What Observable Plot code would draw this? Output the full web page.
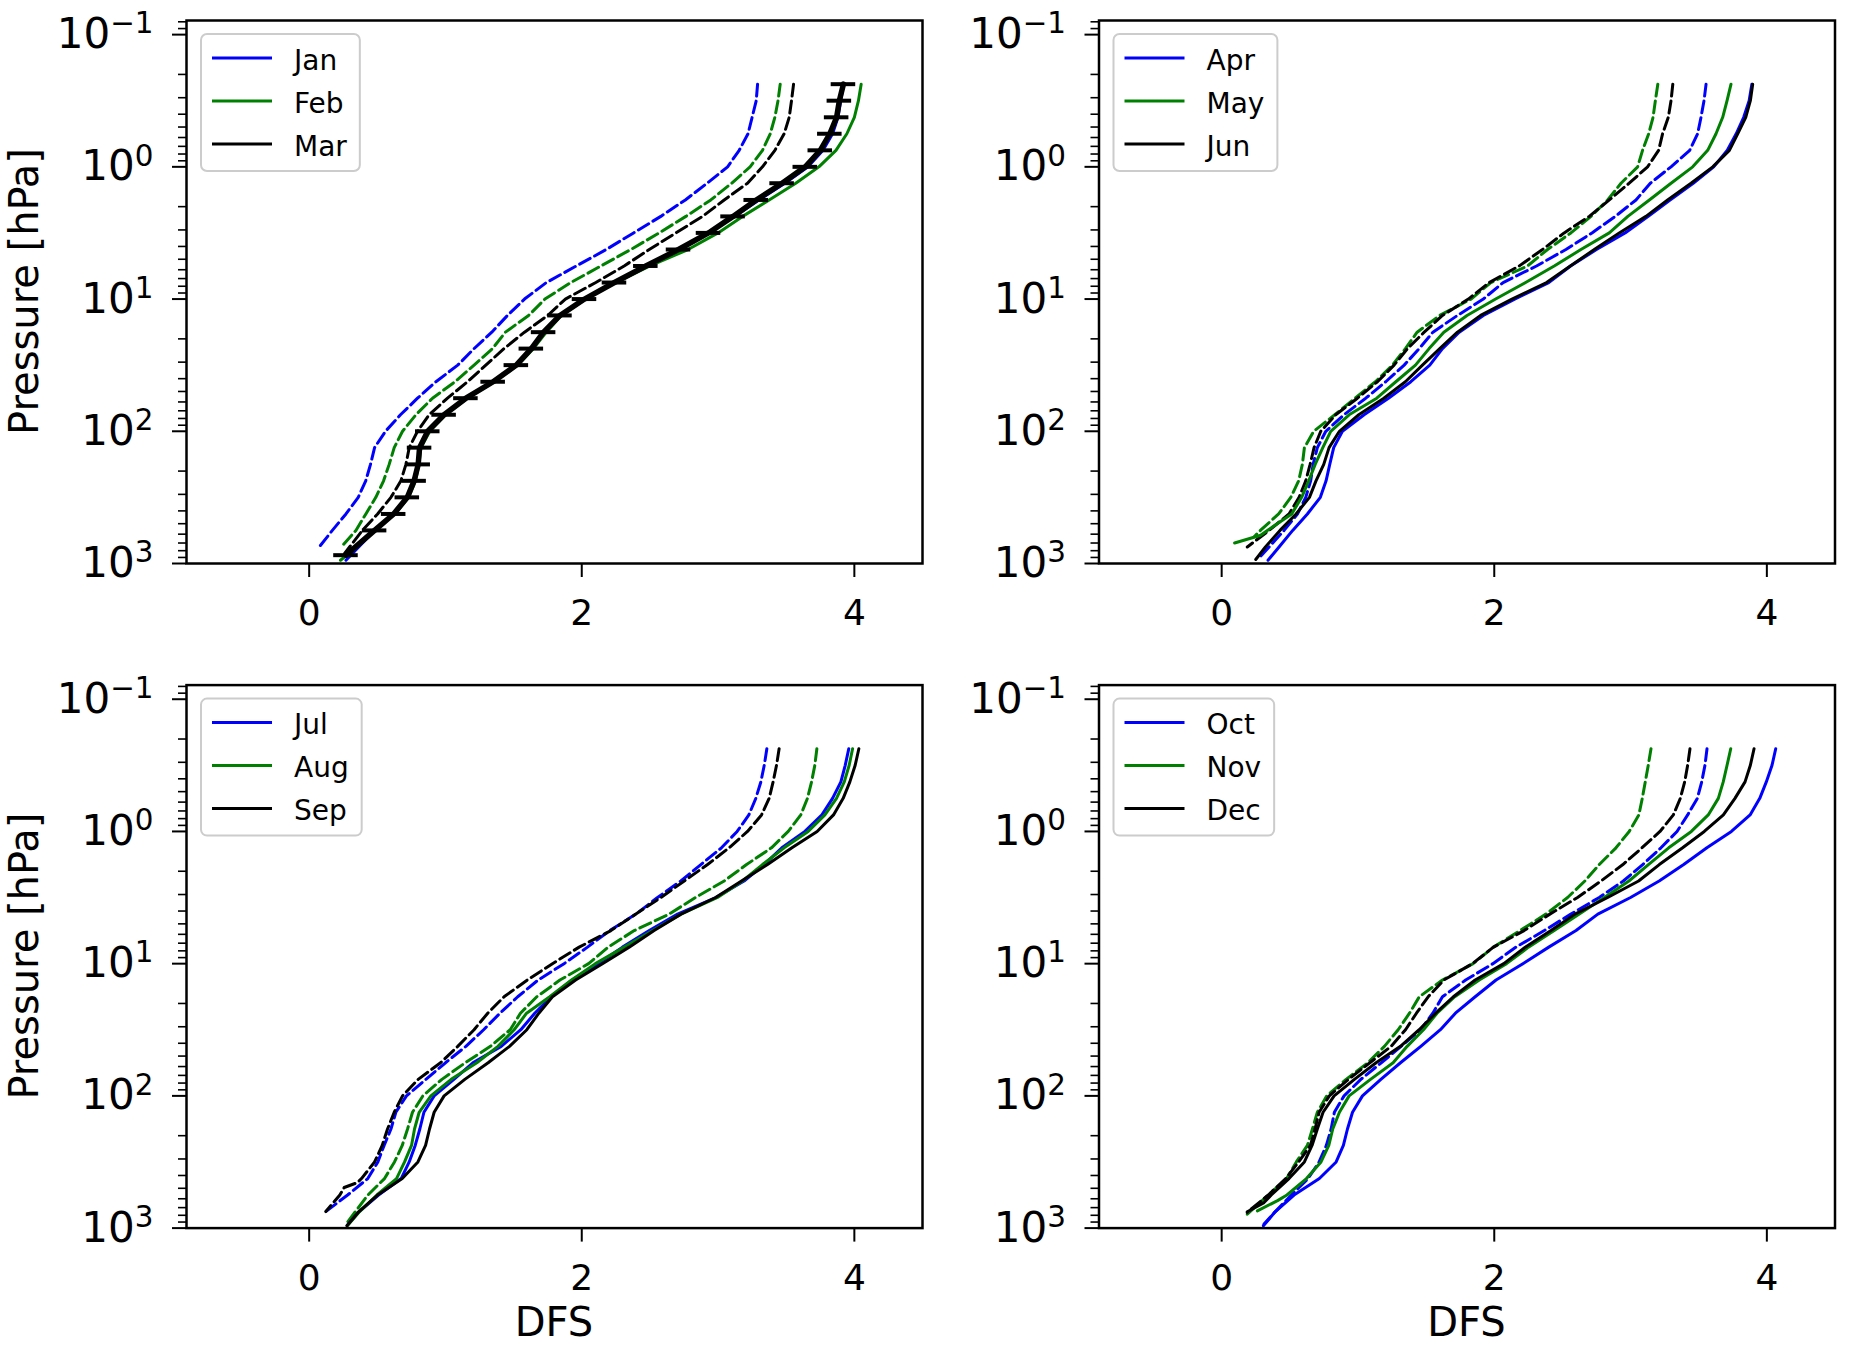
<!DOCTYPE html>
<html><head><meta charset="utf-8">
<script src="https://cdn.jsdelivr.net/npm/d3@7"></script>
<script src="https://cdn.jsdelivr.net/npm/@observablehq/plot@0.6"></script>
<style>
html,body{margin:0;padding:0;background:#fff;}
#fig{position:relative;width:1854px;height:1346px;background:#fff;overflow:hidden;}
.panel{position:absolute;width:927px;height:673px;}
.panel svg{max-width:none !important;}
</style></head><body><div id="fig"></div>
<script>
// Pressure levels (hPa) shared by the profiles
const levels = [0.237, 0.316, 0.422, 0.562, 0.75, 1, 1.33, 1.78, 2.37, 3.16, 4.22, 5.62, 7.5, 10, 13.3, 17.8, 23.7, 31.6, 42.2, 56.2, 75, 100, 133, 178, 237, 316, 422, 562];
const yMajorTicks = [0.1, 1, 10, 100, 1000];
const yMinorTicks = [0.08, 0.09, 0.2, 0.3, 0.4, 0.5, 0.6, 0.7, 0.8, 0.9, 2, 3, 4, 5, 6, 7, 8, 9, 20, 30, 40, 50, 60, 70, 80, 90, 200, 300, 400, 500, 600, 700, 800, 900];
const xTicks = [0, 2, 4];
const colors = ["#0000ff", "#008000", "#000000"];

// Jan / Feb / Mar
const janSolid = [3.92, 3.90, 3.88, 3.84, 3.77, 3.66, 3.49, 3.30, 3.12, 2.93, 2.71, 2.47, 2.24, 2.02, 1.84, 1.72, 1.63, 1.52, 1.35, 1.15, 0.99, 0.87, 0.81, 0.80, 0.77, 0.72, 0.62, 0.48];
const janSolidTail = [[945, 0.27]];
const febSolid = [4.05, 4.03, 4.00, 3.945, 3.865, 3.74, 3.57, 3.375, 3.18, 3.00, 2.78, 2.50, 2.25, 2.03, 1.85, 1.74, 1.645, 1.53, 1.36, 1.16, 1.00, 0.885, 0.82, 0.805, 0.78, 0.73, 0.63, 0.47];
const febSolidTail = [[750, 0.35], [945, 0.23]];
const marSolid = [3.92, 3.89, 3.87, 3.82, 3.75, 3.64, 3.47, 3.28, 3.11, 2.93, 2.71, 2.47, 2.24, 2.02, 1.84, 1.72, 1.63, 1.52, 1.35, 1.15, 0.99, 0.87, 0.81, 0.80, 0.77, 0.72, 0.62, 0.48];
const marSolidTail = [[865, 0.27]];
const marErr = [0.09, 0.09, 0.09, 0.09, 0.09, 0.09, 0.09, 0.09, 0.09, 0.09, 0.09, 0.09, 0.09, 0.09, 0.09, 0.09, 0.09, 0.09, 0.09, 0.09, 0.09, 0.09, 0.09, 0.09, 0.09, 0.09, 0.09, 0.09];
const marErrTail = [0.09];
const janDashed = [3.29, 3.28, 3.25, 3.22, 3.155, 3.07, 2.92, 2.76, 2.58, 2.38, 2.18, 1.96, 1.74, 1.58, 1.455, 1.34, 1.21, 1.09, 0.93, 0.795, 0.67, 0.56, 0.48, 0.45, 0.415, 0.36, 0.27, 0.17];
const janDashedTail = [[750, 0.074]];
const febDashed = [3.456, 3.44, 3.417, 3.383, 3.326, 3.235, 3.10, 2.947, 2.764, 2.568, 2.36, 2.14, 1.92, 1.73, 1.61, 1.44, 1.345, 1.21, 1.07, 0.905, 0.783, 0.685, 0.624, 0.587, 0.546, 0.489, 0.416, 0.343];
const febDashedTail = [[760, 0.23]];
const marDashed = [3.554, 3.539, 3.522, 3.485, 3.417, 3.326, 3.216, 3.045, 2.886, 2.691, 2.495, 2.311, 2.103, 1.88, 1.75, 1.58, 1.43, 1.296, 1.162, 1.015, 0.88, 0.795, 0.734, 0.71, 0.673, 0.60, 0.502, 0.39];
const marDashedTail = [[840, 0.26]];

// Apr / May / Jun
const aprSolid = [3.89, 3.87, 3.83, 3.775, 3.71, 3.61, 3.46, 3.29, 3.13, 2.96, 2.75, 2.56, 2.40, 2.15, 1.92, 1.743, 1.62, 1.527, 1.388, 1.224, 1.045, 0.886, 0.822, 0.793, 0.766, 0.724, 0.629, 0.521];
const aprSolidTail = [[750, 0.421], [945, 0.34]];
const maySolid = [3.737, 3.708, 3.676, 3.627, 3.566, 3.456, 3.297, 3.138, 2.98, 2.844, 2.636, 2.44, 2.23, 2.01, 1.80, 1.63, 1.522, 1.422, 1.278, 1.138, 0.935, 0.80, 0.742, 0.686, 0.639, 0.587, 0.514, 0.335];
const maySolidTail = [[611, 0.286], [700, 0.095]];
const junSolid = [3.896, 3.879, 3.845, 3.786, 3.725, 3.603, 3.444, 3.272, 3.113, 2.917, 2.734, 2.558, 2.384, 2.13, 1.90, 1.73, 1.60, 1.473, 1.348, 1.19, 1.006, 0.864, 0.788, 0.749, 0.692, 0.644, 0.546, 0.428];
const junSolidTail = [[750, 0.321], [933, 0.25]];
const aprDashed = [3.554, 3.539, 3.517, 3.492, 3.434, 3.297, 3.145, 3.04, 2.888, 2.717, 2.526, 2.31, 2.065, 1.92, 1.73, 1.55, 1.449, 1.339, 1.204, 1.057, 0.898, 0.764, 0.702, 0.671, 0.653, 0.617, 0.556, 0.458];
const aprDashedTail = [[910, 0.274]];
const mayDashed = [3.20, 3.182, 3.165, 3.133, 3.088, 3.052, 2.93, 2.832, 2.71, 2.562, 2.391, 2.244, 1.975, 1.83, 1.60, 1.434, 1.348, 1.253, 1.128, 0.979, 0.83, 0.675, 0.607, 0.592, 0.565, 0.507, 0.418, 0.284];
const mayDashedTail = [[630, 0.237]];
const junDashed = [3.31, 3.297, 3.277, 3.235, 3.206, 3.125, 2.99, 2.844, 2.697, 2.513, 2.354, 2.183, 1.963, 1.81, 1.62, 1.486, 1.363, 1.265, 1.143, 0.996, 0.837, 0.727, 0.678, 0.649, 0.617, 0.568, 0.494, 0.348];
const junDashedTail = [[750, 0.188]];

// Jul / Aug / Sep
const julSolid = [3.959, 3.933, 3.901, 3.84, 3.762, 3.637, 3.468, 3.338, 3.191, 2.984, 2.703, 2.495, 2.299, 2.12, 1.93, 1.775, 1.655, 1.553, 1.409, 1.201, 1.062, 0.917, 0.842, 0.812, 0.778, 0.734, 0.675, 0.509];
const julSolidTail = [[750, 0.367], [950, 0.28]];
const augSolid = [3.987, 3.962, 3.926, 3.869, 3.784, 3.661, 3.485, 3.326, 3.179, 2.996, 2.728, 2.52, 2.311, 2.10, 1.925, 1.765, 1.595, 1.504, 1.385, 1.23, 1.042, 0.893, 0.807, 0.773, 0.751, 0.70, 0.641, 0.497];
const augSolidTail = [[750, 0.37], [960, 0.28]];
const sepSolid = [4.033, 4.006, 3.967, 3.918, 3.847, 3.727, 3.542, 3.363, 3.172, 2.982, 2.728, 2.531, 2.348, 2.152, 1.955, 1.785, 1.685, 1.597, 1.47, 1.313, 1.142, 0.99, 0.917, 0.883, 0.854, 0.798, 0.683, 0.502];
const sepSolidTail = [[750, 0.365], [960, 0.277]];
const julDashed = [3.358, 3.339, 3.314, 3.277, 3.226, 3.14, 3.025, 2.874, 2.727, 2.556, 2.397, 2.206, 2.042, 1.87, 1.68, 1.53, 1.40, 1.28, 1.15, 1.00, 0.856, 0.714, 0.636, 0.60, 0.55, 0.504, 0.43, 0.282];
const julDashedTail = [[750, 0.122]];
const augDashed = [3.725, 3.71, 3.686, 3.656, 3.607, 3.515, 3.392, 3.209, 3.045, 2.835, 2.641, 2.385, 2.194, 2.05, 1.84, 1.67, 1.55, 1.475, 1.33, 1.145, 0.974, 0.834, 0.758, 0.722, 0.683, 0.626, 0.553, 0.431];
const augDashedTail = [[905, 0.28]];
const sepDashed = [3.448, 3.429, 3.404, 3.375, 3.319, 3.216, 3.081, 2.923, 2.752, 2.58, 2.397, 2.214, 1.981, 1.785, 1.60, 1.43, 1.31, 1.21, 1.09, 0.964, 0.80, 0.685, 0.624, 0.575, 0.536, 0.48, 0.384, 0.225];
const sepDashedTail = [[452, 0.355], [493, 0.257], [750, 0.122]];

// Oct / Nov / Dec
const octSolid = [4.065, 4.038, 3.996, 3.948, 3.877, 3.74, 3.56, 3.39, 3.21, 3.00, 2.76, 2.60, 2.40, 2.21, 2.013, 1.86, 1.715, 1.605, 1.461, 1.312, 1.168, 1.033, 0.96, 0.923, 0.893, 0.84, 0.717, 0.531];
const octSolidTail = [[750, 0.394], [960, 0.306]];
const novSolid = [3.735, 3.708, 3.68, 3.644, 3.57, 3.446, 3.28, 3.131, 2.988, 2.807, 2.624, 2.44, 2.251, 2.09, 1.89, 1.71, 1.58, 1.481, 1.361, 1.258, 1.092, 0.935, 0.864, 0.815, 0.786, 0.729, 0.622, 0.479];
const novSolidTail = [[620, 0.41], [740, 0.262]];
const decSolid = [3.906, 3.879, 3.84, 3.766, 3.681, 3.541, 3.382, 3.211, 3.059, 2.832, 2.592, 2.416, 2.227, 2.07, 1.86, 1.70, 1.57, 1.449, 1.312, 1.133, 0.974, 0.825, 0.744, 0.702, 0.663, 0.607, 0.494, 0.364];
const decSolidTail = [[641, 0.311], [753, 0.188]];
const octDashed = [3.561, 3.546, 3.522, 3.49, 3.419, 3.341, 3.223, 3.089, 2.947, 2.77, 2.562, 2.367, 2.159, 1.99, 1.79, 1.62, 1.549, 1.461, 1.316, 1.171, 1.021, 0.898, 0.827, 0.803, 0.768, 0.715, 0.634, 0.512];
const octDashedTail = [[750, 0.394], [933, 0.311]];
const novDashed = [3.15, 3.13, 3.108, 3.086, 3.061, 2.99, 2.893, 2.77, 2.665, 2.538, 2.379, 2.19, 1.994, 1.845, 1.62, 1.45, 1.378, 1.295, 1.194, 1.072, 0.913, 0.771, 0.702, 0.666, 0.629, 0.548, 0.477, 0.342];
const novDashedTail = [[784, 0.188]];
const decDashed = [3.436, 3.419, 3.397, 3.365, 3.314, 3.216, 3.084, 2.944, 2.783, 2.611, 2.408, 2.219, 1.994, 1.84, 1.63, 1.515, 1.429, 1.349, 1.243, 1.087, 0.93, 0.79, 0.715, 0.685, 0.651, 0.565, 0.47, 0.342];
const decDashedTail = [[760, 0.188]];

// ---------- build tables ----------
function profile(vals, tail, errs, errTail) {
  const pts = vals.map((v, i) => ({p: levels[i], v, e: errs ? errs[i] : 0}))
    .concat(tail.map(([p, v], j) => ({p, v, e: errTail ? errTail[j] : 0})));
  return pts.sort((a, b) => a.p - b.p);
}

const FRAME_W = 736, FRAME_H = 543;
const panels = [
  {months: ["Jan", "Feb", "Mar"], solid: [[janSolid, janSolidTail], [febSolid, febSolidTail], [marSolid, marSolidTail]],
   dashed: [[janDashed, janDashedTail], [febDashed, febDashedTail], [marDashed, marDashedTail]],
   left: 0, top: 0, ml: 186, mt: 20, yLabel: true, xLabel: false, err: true},
  {months: ["Apr", "May", "Jun"], solid: [[aprSolid, aprSolidTail], [maySolid, maySolidTail], [junSolid, junSolidTail]],
   dashed: [[aprDashed, aprDashedTail], [mayDashed, mayDashedTail], [junDashed, junDashedTail]],
   left: 927, top: 0, ml: 171.5, mt: 20, yLabel: false, xLabel: false, err: false},
  {months: ["Jul", "Aug", "Sep"], solid: [[julSolid, julSolidTail], [augSolid, augSolidTail], [sepSolid, sepSolidTail]],
   dashed: [[julDashed, julDashedTail], [augDashed, augDashedTail], [sepDashed, sepDashedTail]],
   left: 0, top: 673, ml: 186, mt: 11.6, yLabel: true, xLabel: true, err: false},
  {months: ["Oct", "Nov", "Dec"], solid: [[octSolid, octSolidTail], [novSolid, novSolidTail], [decSolid, decSolidTail]],
   dashed: [[octDashed, octDashedTail], [novDashed, novDashedTail], [decDashed, decDashedTail]],
   left: 927, top: 673, ml: 171.5, mt: 11.6, yLabel: false, xLabel: true, err: false}
];

const fig = document.getElementById("fig");

panels.forEach(cfg => {
  const W = 927, H = 673;
  const marks = [];
  cfg.dashed.forEach(([vals, tail], i) => {
    marks.push(Plot.line(profile(vals, tail), {x: "v", y: "p", stroke: colors[i], strokeWidth: 3, strokeDasharray: "12,5", strokeLinejoin: "round"}));
  });
  cfg.solid.forEach(([vals, tail], i) => {
    const thick = cfg.err && i === 2;
    marks.push(Plot.line(profile(vals, tail), {x: "v", y: "p", stroke: colors[i], strokeWidth: thick ? 5.5 : 3, strokeLinejoin: "round"}));
  });
  if (cfg.err) {
    const [vals, tail] = cfg.solid[2];
    marks.push(Plot.ruleY(profile(vals, tail, marErr, marErrTail), {y: "p", x1: d => d.v - d.e, x2: d => d.v + d.e, stroke: "#000", strokeWidth: 4}));
  }
  marks.push(Plot.frame({stroke: "#000", strokeWidth: 2.5}));
  marks.push(Plot.axisX({ticks: xTicks, tickSize: 14, tickPadding: 22, fontSize: 36, strokeWidth: 2, label: null, tickFormat: d => String(d)}));
  marks.push(Plot.axisY({ticks: yMinorTicks, tickSize: 8, tickFormat: () => "", strokeWidth: 1.6, label: null}));
  marks.push(Plot.axisY({ticks: yMajorTicks, tickSize: 14, tickPadding: 19, fontSize: 42, strokeWidth: 2, label: null, tickFormat: d => "10^" + Math.round(Math.log10(d))}));

  const svg = Plot.plot({
    width: W, height: H,
    marginLeft: cfg.ml, marginRight: W - cfg.ml - FRAME_W,
    marginTop: cfg.mt, marginBottom: H - cfg.mt - FRAME_H,
    x: {domain: [-0.9, 4.5]},
    y: {type: "log", domain: [1000, 0.0782]},
    style: {fontFamily: "DejaVu Sans", fontSize: "36px", background: "transparent", overflow: "visible", color: "#000"},
    marks
  });
  const div = document.createElement("div");
  div.className = "panel";
  div.style.left = cfg.left + "px";
  div.style.top = cfg.top + "px";
  div.appendChild(svg);
  fig.appendChild(div);

  // superscript exponents on y tick labels
  d3.select(svg).selectAll("text").each(function () {
    const t = this.textContent;
    const m = /^10\^(-?\d+)$/.exec(t);
    if (m) {
      const el = d3.select(this);
      el.text("10");
      el.append("tspan").attr("dy", "-0.5em").attr("font-size", "0.7em").text(m[1].replace("-", "\u2212"));
    }
  });

  // axis titles
  if (cfg.yLabel) {
    d3.select(svg).append("text")
      .attr("transform", `translate(25,${cfg.mt + FRAME_H / 2}) rotate(-90)`)
      .attr("text-anchor", "middle").attr("dy", "0.32em")
      .attr("font-size", 40).attr("font-family", "DejaVu Sans").attr("fill", "#000")
      .text("Pressure [hPa]");
  }
  if (cfg.xLabel) {
    d3.select(svg).append("text")
      .attr("x", cfg.ml + FRAME_W / 2).attr("y", cfg.mt + FRAME_H + 108)
      .attr("text-anchor", "middle")
      .attr("font-size", 40).attr("font-family", "DejaVu Sans").attr("fill", "#000")
      .text("DFS");
  }

  // legend (solid-line samples)
  const g = d3.select(svg).append("g").attr("transform", `translate(${cfg.ml + 15},${cfg.mt + 14})`);
  const texts = [];
  cfg.months.forEach((m, i) => {
    const y = 24 + 43 * i;
    g.append("line").attr("x1", 11).attr("x2", 71).attr("y1", y).attr("y2", y)
      .attr("stroke", colors[i]).attr("stroke-width", 3);
    texts.push(g.append("text").attr("x", 93).attr("y", y).attr("dy", "0.42em")
      .attr("text-anchor", "start")
      .attr("font-size", 28).attr("font-family", "DejaVu Sans").attr("fill", "#000").text(m));
  });
  const maxW = d3.max(texts, t => t.node().getComputedTextLength());
  g.insert("rect", ":first-child").attr("x", 0).attr("y", 0).attr("width", 93 + maxW + 13).attr("height", 137)
    .attr("rx", 6).attr("fill", "#fff").attr("fill-opacity", 0.8).attr("stroke", "#cccccc").attr("stroke-width", 2);
});
</script></body></html>
